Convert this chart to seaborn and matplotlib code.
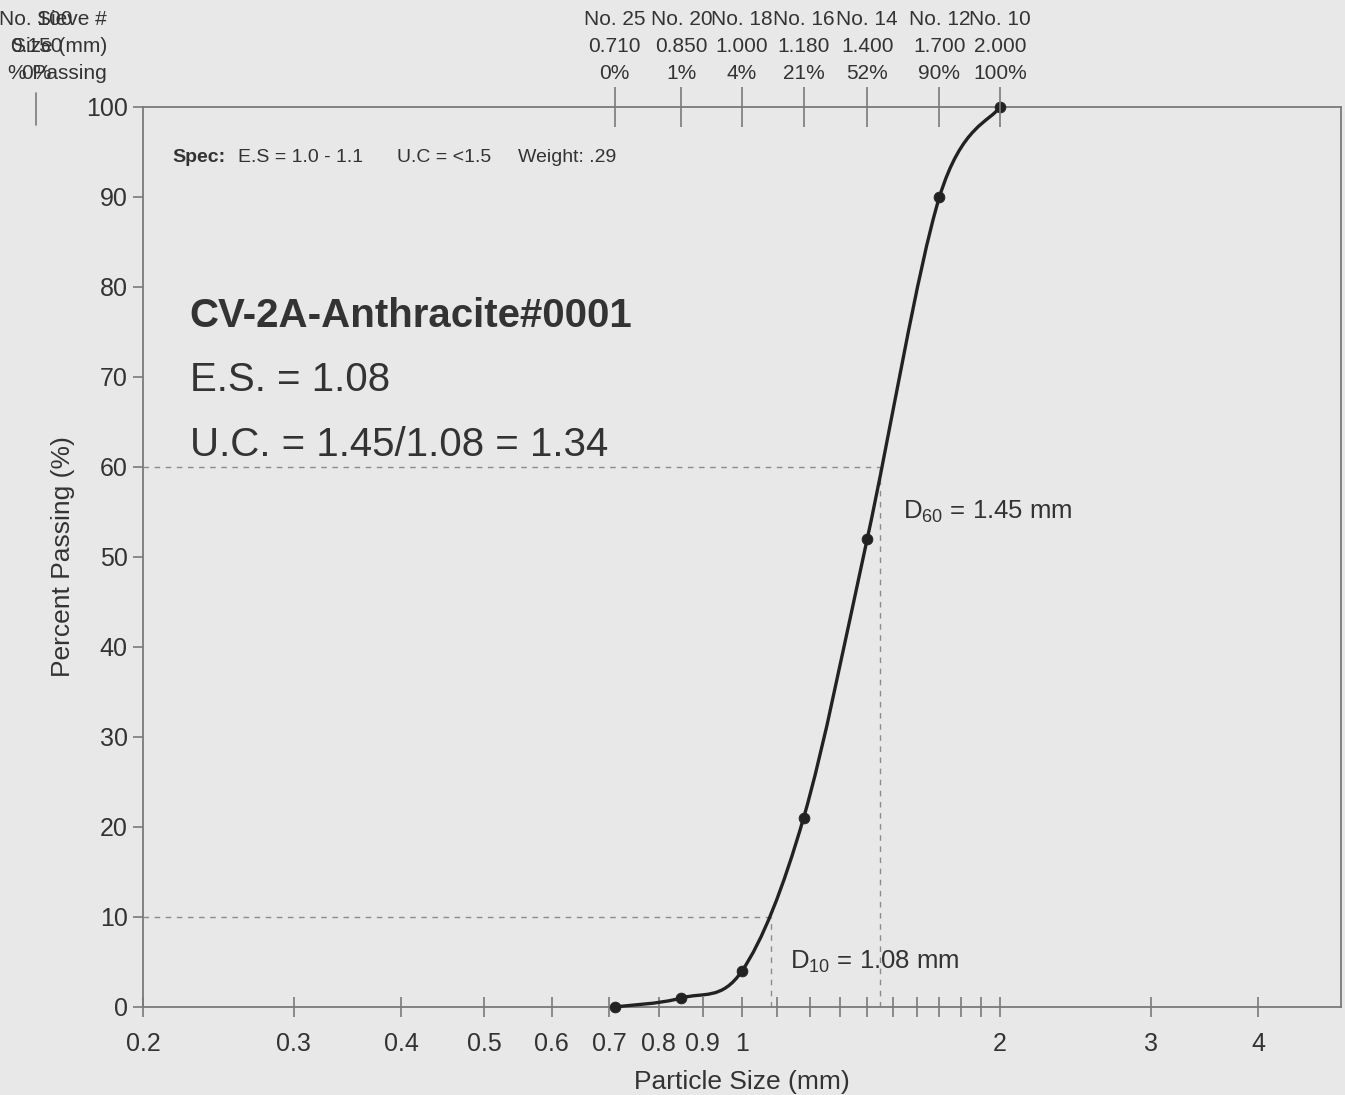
import numpy as np
import seaborn as sns
import matplotlib.pyplot as plt
from matplotlib.path import Path
from matplotlib.patches import PathPatch
from matplotlib.ticker import FixedLocator, FixedFormatter, NullFormatter

# sieve analysis data
sieve_no = ["No. 25", "No. 20", "No. 18", "No. 16", "No. 14", "No. 12", "No. 10"]
sieve_mm = [0.710, 0.850, 1.000, 1.180, 1.400, 1.700, 2.000]
passing = [0, 1, 4, 21, 52, 90, 100]

d10 = 1.08
d60 = 1.45

x_major = [0.2, 0.3, 0.4, 0.5, 0.6, 0.7, 0.8, 0.9, 1, 2, 3, 4]
x_major_labels = ["0.2", "0.3", "0.4", "0.5", "0.6", "0.7", "0.8", "0.9", "1", "2", "3", "4"]
x_minor = [1.1, 1.2, 1.3, 1.4, 1.5, 1.6, 1.7, 1.8, 1.9]
xlim = (0.2, 5)

BG = "#e8e8e8"
INK = "#333333"
GRID = "#7a7a7a"

sns.set_theme(style="ticks")
plt.rcParams['font.family'] = ['Liberation Sans', 'DejaVu Sans']
plt.rcParams['mathtext.fontset'] = 'custom'
plt.rcParams['mathtext.rm'] = 'Liberation Sans'
plt.rcParams['text.color'] = INK
plt.rcParams['axes.labelcolor'] = INK
plt.rcParams['xtick.color'] = GRID
plt.rcParams['ytick.color'] = GRID
plt.rcParams['xtick.labelcolor'] = INK
plt.rcParams['ytick.labelcolor'] = INK

fig = plt.figure(figsize=(13.45, 10.95), dpi=100, facecolor=BG)
ax = fig.add_axes([0.1063, 0.0804, 0.8907, 0.8219], facecolor=BG)
ax.set_xscale('log')
ax.set_xlim(*xlim)
ax.set_ylim(0, 100)

for sp in ax.spines.values():
    sp.set_color(GRID)
    sp.set_linewidth(1.3)

# smooth (Catmull-Rom) curve through the measured points, built in log-x space
lx = np.log10(sieve_mm)
py = np.array(passing, dtype=float)
pts = np.column_stack([lx, py])
ext = np.vstack([pts[0], pts, pts[-1]])
verts = [tuple(pts[0])]
codes = [Path.MOVETO]
for i in range(len(pts) - 1):
    p0, p1, p2, p3 = ext[i], ext[i + 1], ext[i + 2], ext[i + 3]
    c1 = p1 + (p2 - p0) / 6
    c2 = p2 - (p3 - p1) / 6
    verts += [tuple(c1), tuple(c2), tuple(p2)]
    codes += [Path.CURVE4] * 3
verts = [(10 ** vx, vy) for vx, vy in verts]
curve = PathPatch(Path(verts, codes), fill=False, lw=2.4, edgecolor="#222222", zorder=3)
curve.set_clip_on(False)
ax.add_patch(curve)

sns.scatterplot(x=sieve_mm, y=passing, ax=ax, s=60, color="#222222", edgecolor="#222222",
                zorder=4, legend=False)
ax.collections[-1].set_clip_on(False)

# D10 / D60 guide lines
dash = dict(color="#8c8c8c", lw=1.0, linestyle=(0, (4, 4)), zorder=1)
ax.hlines(10, xlim[0], d10, **dash)
ax.vlines(d10, 0, 10, **dash)
ax.hlines(60, xlim[0], d60, **dash)
ax.vlines(d60, 0, 60, **dash)

ax.text(0.540, 0.043, r"D$_{\mathregular{10}}$ = 1.08 mm", transform=ax.transAxes,
        fontsize=18.5, va='baseline')
ax.text(0.634, 0.543, r"D$_{\mathregular{60}}$ = 1.45 mm", transform=ax.transAxes,
        fontsize=18.5, va='baseline')

# header texts
ax.text(0.0242, 0.944, "Spec:", transform=ax.transAxes, fontsize=14, fontweight='bold', va='center')
ax.text(0.0793, 0.944, "E.S = 1.0 - 1.1", transform=ax.transAxes, fontsize=14, va='center')
ax.text(0.212, 0.944, "U.C = <1.5", transform=ax.transAxes, fontsize=14, va='center')
ax.text(0.313, 0.944, "Weight: .29", transform=ax.transAxes, fontsize=14, va='center')

ax.text(0.039, 0.768, "CV-2A-Anthracite#0001", transform=ax.transAxes, fontsize=29,
        fontweight='bold', va='center')
ax.text(0.039, 0.697, "E.S. = 1.08", transform=ax.transAxes, fontsize=29, va='center')
ax.text(0.039, 0.624, "U.C. = 1.45/1.08 = 1.34", transform=ax.transAxes, fontsize=29, va='center')

# bottom axis
ax.xaxis.set_major_locator(FixedLocator(x_major))
ax.xaxis.set_major_formatter(FixedFormatter(x_major_labels))
ax.xaxis.set_minor_locator(FixedLocator(x_minor))
ax.xaxis.set_minor_formatter(NullFormatter())
ax.tick_params(axis='x', which='both', direction='inout', length=14, width=1.2,
               labelsize=18, pad=11)
ax.set_yticks(range(0, 101, 10))
ax.tick_params(axis='y', direction='out', length=7, width=1.2, labelsize=18, pad=4)
ax.set_xlabel("Particle Size (mm)", fontsize=19, labelpad=10)
ax.set_ylabel("Percent Passing (%)", fontsize=19, labelpad=8)

# top sieve axis
ax2 = ax.twiny()
ax2.set_xscale('log')
ax2.set_xlim(*xlim)
ax2.xaxis.set_major_locator(FixedLocator(sieve_mm))
top_labels = [f"{n}\n{s:.3f}\n{p}%" for n, s, p in zip(sieve_no, sieve_mm, passing)]
ax2.xaxis.set_major_formatter(FixedFormatter(top_labels))
ax2.xaxis.set_minor_locator(FixedLocator([]))
ax2.tick_params(axis='x', direction='inout', length=29, width=1.2, labelsize=15, pad=3)
for t in ax2.get_xticklabels():
    t.set_linespacing(1.52)
for sp in ax2.spines.values():
    sp.set_visible(False)

# header column for the pan sieve (No. 100) lying left of the plot
ax.plot([0.15, 0.15], [0.98, 1.016], transform=ax.get_xaxis_transform(), color=GRID,
        lw=1.2, clip_on=False)
ax.text(0.15, 1.027, "No. 100\n0.150\n0%", transform=ax.get_xaxis_transform(), fontsize=15,
        ha='center', va='bottom', linespacing=1.52)
ax.text(-0.03, 1.027, "Sieve #\nSize (mm)\n% Passing", transform=ax.transAxes, fontsize=15,
        ha='right', va='bottom', linespacing=1.52, multialignment='right')

fig.savefig("out.png", dpi=100, facecolor=BG)
